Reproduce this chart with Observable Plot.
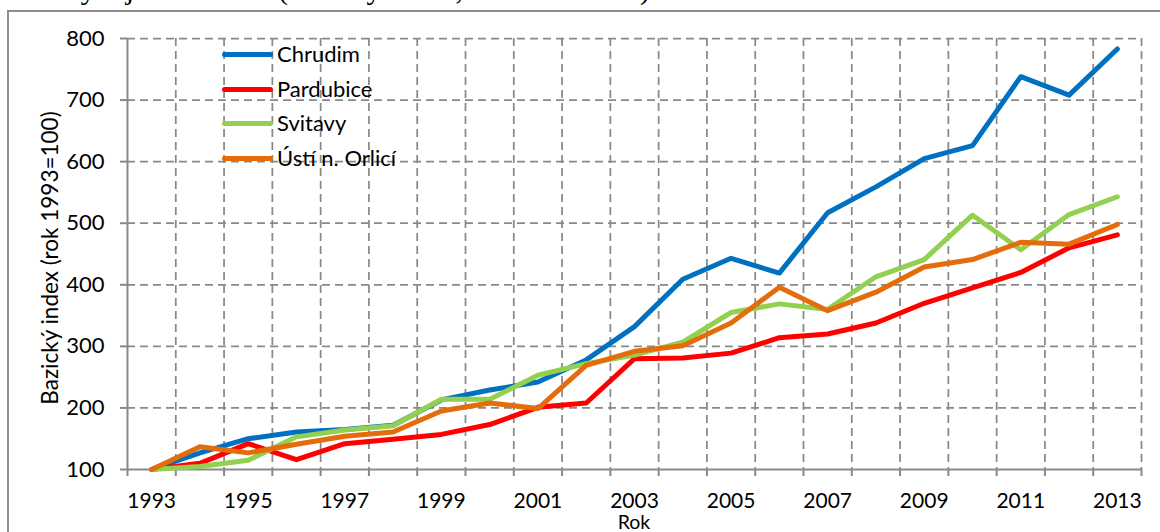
<!DOCTYPE html>
<html>
<head>
<meta charset="utf-8">
<script src="https://cdn.jsdelivr.net/npm/d3@7"></script>
<script src="https://cdn.jsdelivr.net/npm/@observablehq/plot@0.6"></script>
<style>
  html, body { margin: 0; padding: 0; background: #fff; }
  #wrap { position: relative; width: 1160px; height: 532px; overflow: hidden; font-family: Lato, "Open Sans", sans-serif; }
  #frame { position: absolute; left: 7px; top: 10px; width: 1200px; height: 600px; border-left: 2px solid #8c8c8c; border-top: 2px solid #8c8c8c; }
  #title { position: absolute; left: 59px; top: -26px; font-family: "Liberation Serif", "Times New Roman", serif; font-size: 30px; line-height: 1; white-space: nowrap; color: #000; }
  #chart { position: absolute; left: 0; top: 0; }
  #ytitle { position: absolute; left: 49px; top: 258px; transform: translate(-50%, -50%) rotate(-90deg); font-size: 22.5px; white-space: nowrap; color: #000; }
  #xtitle { position: absolute; left: 634px; top: 522px; transform: translate(-50%, -50%); font-size: 19.5px; line-height: 1; white-space: nowrap; color: #000; }
  #legend { position: absolute; left: 222px; top: 40px; }
  .li { position: relative; height: 34.5px; }
  .sw { position: absolute; left: 0; top: 12px; width: 51px; height: 5px; border-radius: 3px; }
  .lt { position: absolute; left: 55px; top: 1px; font-size: 22px; line-height: 26px; color: #000; white-space: nowrap; }
</style>
</head>
<body>
<div id="wrap">
  <div id="frame"></div>
  <div id="title">Vývoj v okresech (bazický index, rok 1993=100)</div>
  <div id="chart"></div>
  <div id="ytitle">Bazický index (rok 1993=100)</div>
  <div id="xtitle">Rok</div>
  <div id="legend"></div>
</div>
<script>
const years = [1993,1994,1995,1996,1997,1998,1999,2000,2001,2002,2003,2004,2005,2006,2007,2008,2009,2010,2011,2012,2013];
const seriesNames = ["Chrudim", "Pardubice", "Svitavy", "Ústí n. Orlicí"];
const seriesColors = ["#0070C0", "#FF0000", "#92D050", "#E46C0A"];
const chrudim   = [100,127,150,161,165,172,213,229,242,278,332,409,443,419,517,559,605,626,738,708,783];
const pardubice = [100,110,142,116,142,149,157,173,201,208,280,281,289,314,320,338,370,395,420,460,481];
const svitavy   = [100,105,115,153,164,171,214,214,253,272,286,307,355,369,360,413,441,513,457,514,543];
const usti      = [100,137,127,141,154,161,195,208,199,269,292,301,338,396,358,388,429,441,469,466,498];
const yTicks = [100,200,300,400,500,600,700,800];
const xLabelYears = [1993,1995,1997,1999,2001,2003,2005,2007,2009,2011,2013];

const seriesValues = [chrudim, pardubice, svitavy, usti];
const table = [];
seriesNames.forEach((name, i) => {
  years.forEach((yr, j) => table.push({series: name, year: yr, value: seriesValues[i][j]}));
});
const boundaries = d3.range(years.length + 1).map(k => years[0] - 0.5 + k);
const gray = "#898989";

const plot = Plot.plot({
  width: 1160,
  height: 532,
  marginLeft: 127,
  marginRight: 19,
  marginTop: 38,
  marginBottom: 63,
  style: {background: "transparent", overflow: "visible", fontFamily: "Lato, 'Open Sans', sans-serif"},
  x: {domain: [years[0] - 0.5, years[years.length - 1] + 0.5]},
  y: {domain: [100, 800]},
  color: {domain: seriesNames, range: seriesColors},
  marks: [
    Plot.ruleY(yTicks.slice(1), {stroke: gray, strokeWidth: 1.75, strokeDasharray: "8,5"}),
    Plot.ruleX(boundaries.slice(1), {stroke: gray, strokeWidth: 1.75, strokeDasharray: "8,5"}),
    Plot.ruleX([boundaries[0]], {stroke: gray, strokeWidth: 2}),
    Plot.ruleY([100], {stroke: gray, strokeWidth: 2}),
    Plot.axisY(yTicks, {tickSize: 7, tickPadding: 16, stroke: gray, strokeWidth: 2, fontSize: 22, fill: "#000", label: null, tickFormat: d => String(d)}),
    Plot.axisX(boundaries, {tickSize: 7, stroke: gray, strokeWidth: 2, tickFormat: () => "", label: null}),
    Plot.axisX(xLabelYears, {tickSize: 0, tickPadding: 24, fontSize: 21, fill: "#000", label: null, tickFormat: d => String(d)}),
    Plot.line(table, {x: "year", y: "value", z: "series", stroke: "series", strokeWidth: 5, strokeLinejoin: "round", strokeLinecap: "round"})
  ]
});
document.getElementById("chart").appendChild(plot);

const legend = document.getElementById("legend");
seriesNames.forEach((name, i) => {
  const row = document.createElement("div");
  row.className = "li";
  const sw = document.createElement("div");
  sw.className = "sw";
  sw.style.background = seriesColors[i];
  const lt = document.createElement("div");
  lt.className = "lt";
  lt.textContent = name;
  row.appendChild(sw);
  row.appendChild(lt);
  legend.appendChild(row);
});
</script>
</body>
</html>
